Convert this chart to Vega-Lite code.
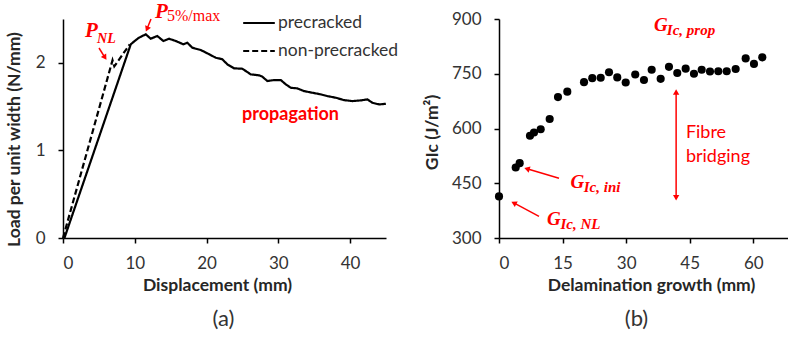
{
  "$schema": "https://vega.github.io/schema/vega-lite/v6.json",
  "padding": {"left": 5, "top": 0, "right": 0, "bottom": 0},
  "bounds": "flush",
  "spacing": 113,
  "resolve": {"scale": {"strokeDash": "independent"}, "legend": {"strokeDash": "independent"}},
  "config": {
    "view": {"stroke": null},
    "font": "Lato",
    "axis": {
      "grid": false,
      "domainColor": "black",
      "domainWidth": 1.5,
      "tickColor": "black",
      "tickWidth": 1.5,
      "tickSize": 5,
      "labelFont": "Lato",
      "labelFontSize": 17,
      "labelColor": "#333333",
      "titleFont": "Lato",
      "titleFontSize": 17.5,
      "titleFontWeight": "bold",
      "titleColor": "#262626"
    }
  },
  "datasets": {
    "loadCurves": [
      {"d": 0.2, "load": 0, "series": "precracked"},
      {"d": 9.44, "load": 2.211, "series": "precracked"},
      {"d": 10.0, "load": 2.25, "series": "precracked"},
      {"d": 10.59, "load": 2.287, "series": "precracked"},
      {"d": 11.53, "load": 2.325, "series": "precracked"},
      {"d": 12.22, "load": 2.275, "series": "precracked"},
      {"d": 13.14, "load": 2.306, "series": "precracked"},
      {"d": 13.98, "load": 2.249, "series": "precracked"},
      {"d": 14.77, "load": 2.275, "series": "precracked"},
      {"d": 15.71, "load": 2.249, "series": "precracked"},
      {"d": 16.77, "load": 2.211, "series": "precracked"},
      {"d": 17.32, "load": 2.229, "series": "precracked"},
      {"d": 18.02, "load": 2.172, "series": "precracked"},
      {"d": 19.19, "load": 2.146, "series": "precracked"},
      {"d": 20.11, "load": 2.108, "series": "precracked"},
      {"d": 21.28, "load": 2.058, "series": "precracked"},
      {"d": 22.2, "load": 2.04, "series": "precracked"},
      {"d": 22.9, "load": 1.982, "series": "precracked"},
      {"d": 23.83, "load": 1.937, "series": "precracked"},
      {"d": 24.99, "load": 1.932, "series": "precracked"},
      {"d": 26.16, "load": 1.868, "series": "precracked"},
      {"d": 27.32, "load": 1.857, "series": "precracked"},
      {"d": 27.78, "load": 1.841, "series": "precracked"},
      {"d": 28.47, "load": 1.792, "series": "precracked"},
      {"d": 29.41, "load": 1.803, "series": "precracked"},
      {"d": 30.34, "load": 1.803, "series": "precracked"},
      {"d": 31.04, "load": 1.754, "series": "precracked"},
      {"d": 31.74, "load": 1.715, "series": "precracked"},
      {"d": 32.65, "load": 1.708, "series": "precracked"},
      {"d": 33.59, "load": 1.677, "series": "precracked"},
      {"d": 34.75, "load": 1.658, "series": "precracked"},
      {"d": 35.92, "load": 1.64, "series": "precracked"},
      {"d": 36.84, "load": 1.62, "series": "precracked"},
      {"d": 38.01, "load": 1.601, "series": "precracked"},
      {"d": 39.16, "load": 1.574, "series": "precracked"},
      {"d": 40.32, "load": 1.563, "series": "precracked"},
      {"d": 41.49, "load": 1.571, "series": "precracked"},
      {"d": 42.41, "load": 1.582, "series": "precracked"},
      {"d": 43.11, "load": 1.543, "series": "precracked"},
      {"d": 44.04, "load": 1.525, "series": "precracked"},
      {"d": 44.98, "load": 1.532, "series": "precracked"},
      {"d": 0, "load": 0, "series": "non-precracked"},
      {"d": 6.9, "load": 2.03, "series": "non-precracked"},
      {"d": 7.15, "load": 1.96, "series": "non-precracked"},
      {"d": 9.3, "load": 2.21, "series": "non-precracked"}
    ],
    "glc": [
      {"a": 0, "g": 414},
      {"a": 3.94, "g": 493},
      {"a": 4.88, "g": 505},
      {"a": 7.31, "g": 580},
      {"a": 8.26, "g": 589},
      {"a": 9.84, "g": 598},
      {"a": 11.96, "g": 626},
      {"a": 13.92, "g": 686},
      {"a": 16.12, "g": 701},
      {"a": 20.06, "g": 727},
      {"a": 22.01, "g": 738},
      {"a": 24.0, "g": 739},
      {"a": 25.96, "g": 754},
      {"a": 27.91, "g": 740},
      {"a": 29.9, "g": 726},
      {"a": 32.15, "g": 748},
      {"a": 34.21, "g": 733},
      {"a": 36.03, "g": 761},
      {"a": 38.15, "g": 736},
      {"a": 40.11, "g": 769},
      {"a": 42.07, "g": 752},
      {"a": 44.05, "g": 764},
      {"a": 46.01, "g": 750},
      {"a": 47.83, "g": 761},
      {"a": 49.79, "g": 756},
      {"a": 51.75, "g": 757},
      {"a": 53.73, "g": 757},
      {"a": 55.85, "g": 763},
      {"a": 58.21, "g": 792},
      {"a": 60.17, "g": 777},
      {"a": 62.13, "g": 795}
    ]
  },
  "hconcat": [
    {
      "width": 323,
      "height": 219,
      "title": {"text": "(a)", "orient": "bottom", "frame": "group", "anchor": "middle", "font": "Lato", "fontSize": 22, "fontWeight": "normal", "color": "#333333", "offset": 15, "dx": -1},
      "encoding": {
        "x": {"field": "d", "type": "quantitative", "scale": {"domain": [0, 45], "nice": false, "zero": false},
              "axis": {"values": [0, 10, 20, 30, 40], "title": "Displacement (mm)", "labelPadding": 12, "titlePadding": 5, "titleX": 154}},
        "y": {"field": "load", "type": "quantitative", "scale": {"domain": [0, 2.5], "nice": false},
              "axis": {"values": [0, 1, 2], "title": "Load per unit width (N/mm)", "labelPadding": 13, "titlePadding": 12, "titleY": 120}}
      },
      "layer": [
        {
          "data": {"name": "loadCurves"},
          "mark": {"type": "line", "strokeWidth": 2.2, "color": "black", "clip": false},
          "encoding": {
            "strokeDash": {"field": "series", "type": "nominal",
                           "scale": {"domain": ["precracked", "non-precracked"], "range": [[1, 0], [6, 3]]},
                           "legend": {"title": null, "orient": "none", "legendX": 179, "legendY": -13, "padding": 0,
                                      "symbolType": "stroke", "symbolStrokeWidth": 2.2, "symbolSize": 1000, "symbolStrokeColor": "black",
                                      "labelFont": "Lato", "labelFontSize": 17.5, "labelColor": "#333333", "labelOffset": 2, "rowPadding": 2}}
          }
        },
        {
          "data": {"values": [{"d": 3.07, "load": 2.295, "t": "P"}, {"d": 12.82, "load": 2.512, "t": "P"}]},
          "mark": {"type": "text", "font": "Liberation Serif", "fontStyle": "italic", "fontWeight": "bold", "fontSize": 21, "color": "red", "align": "left", "baseline": "alphabetic"},
          "encoding": {"text": {"field": "t"}}
        },
        {
          "data": {"values": [{"d": 4.74, "load": 2.226, "t": "NL"}]},
          "mark": {"type": "text", "font": "Liberation Serif", "fontStyle": "italic", "fontWeight": "bold", "fontSize": 14, "color": "red", "align": "left", "baseline": "alphabetic"},
          "encoding": {"text": {"field": "t"}}
        },
        {
          "data": {"values": [{"d": 14.49, "load": 2.477, "t": "5%/max"}]},
          "mark": {"type": "text", "font": "Liberation Serif", "fontSize": 16, "color": "red", "align": "left", "baseline": "alphabetic"},
          "encoding": {"text": {"field": "t"}}
        },
        {
          "data": {"values": [{"d": 31.7, "load": 1.403, "t": "propagation"}]},
          "mark": {"type": "text", "font": "Lato", "fontWeight": "bold", "fontSize": 18, "color": "red", "align": "center", "baseline": "middle"},
          "encoding": {"text": {"field": "t"}}
        },
        {
          "data": {"values": [{"d": 5.02, "load": 2.169, "d2": 5.85, "load2": 2.06}, {"d": 12.26, "load": 2.5, "d2": 11.7, "load2": 2.385}]},
          "mark": {"type": "rule", "color": "red", "strokeWidth": 1.5, "clip": false},
          "encoding": {"x2": {"field": "d2"}, "y2": {"field": "load2"}}
        },
        {
          "data": {"values": [{"d": 5.85, "load": 2.06}]},
          "mark": {"type": "point", "shape": "triangle-up", "filled": true, "color": "red", "size": 40, "angle": 147, "opacity": 1},
          "encoding": {}
        },
        {
          "data": {"values": [{"d": 11.7, "load": 2.385}]},
          "mark": {"type": "point", "shape": "triangle-up", "filled": true, "color": "red", "size": 40, "angle": 203, "opacity": 1},
          "encoding": {}
        }
      ]
    },
    {
      "width": 289,
      "height": 219,
      "title": {"text": "(b)", "orient": "bottom", "frame": "group", "anchor": "middle", "font": "Lato", "fontSize": 22, "fontWeight": "normal", "color": "#333333", "offset": 15, "dx": -7},
      "encoding": {
        "x": {"field": "a", "type": "quantitative", "scale": {"domain": [0, 68.2], "nice": false, "zero": false},
              "axis": {"values": [0, 15, 30, 45, 60], "title": "Delamination growth (mm)", "labelPadding": 12, "titlePadding": 5, "titleX": 152}},
        "y": {"field": "g", "type": "quantitative", "scale": {"domain": [300, 900], "nice": false, "zero": false},
              "axis": {"values": [300, 450, 600, 750, 900], "title": "GIc (J/m²)", "labelPadding": 13, "titlePadding": 10, "titleY": 113}}
      },
      "layer": [
        {
          "data": {"name": "glc"},
          "mark": {"type": "circle", "size": 66, "color": "black", "opacity": 1, "clip": false}
        },
        {
          "data": {"values": [{"a": 36.6, "g": 867, "t": "G"}, {"a": 16.9, "g": 437.6, "t": "G"}, {"a": 11.33, "g": 336.4, "t": "G"}]},
          "mark": {"type": "text", "font": "Liberation Serif", "fontStyle": "italic", "fontWeight": "bold", "fontSize": 19, "color": "red", "align": "left", "baseline": "alphabetic"},
          "encoding": {"text": {"field": "t"}}
        },
        {
          "data": {"values": [{"a": 39.6, "g": 856, "t": "Ic, prop"}, {"a": 20.0, "g": 426.7, "t": "Ic, ini"}, {"a": 14.5, "g": 325.4, "t": "Ic, NL"}]},
          "mark": {"type": "text", "font": "Liberation Serif", "fontStyle": "italic", "fontWeight": "bold", "fontSize": 15, "color": "red", "align": "left", "baseline": "alphabetic"},
          "encoding": {"text": {"field": "t"}}
        },
        {
          "data": {"values": [{"a": 44.1, "g": 589, "t": "Fibre"}, {"a": 44.1, "g": 523, "t": "bridging"}]},
          "mark": {"type": "text", "font": "Lato", "fontSize": 18, "color": "red", "align": "left", "baseline": "middle"},
          "encoding": {"text": {"field": "t"}}
        },
        {
          "data": {"values": [
            {"a": 41.8, "g": 702, "a2": 41.8, "g2": 408},
            {"a": 14.16, "g": 463.6, "a2": 6.6, "g2": 489.5},
            {"a": 9.44, "g": 359.1, "a2": 3.5, "g2": 396}
          ]},
          "mark": {"type": "rule", "color": "red", "strokeWidth": 1.5, "clip": false},
          "encoding": {"x2": {"field": "a2"}, "y2": {"field": "g2"}}
        },
        {
          "data": {"values": [{"a": 41.8, "g": 700}]},
          "mark": {"type": "point", "shape": "triangle-up", "filled": true, "color": "red", "size": 40, "angle": 0, "opacity": 1},
          "encoding": {}
        },
        {
          "data": {"values": [{"a": 41.8, "g": 410}]},
          "mark": {"type": "point", "shape": "triangle-up", "filled": true, "color": "red", "size": 40, "angle": 180, "opacity": 1},
          "encoding": {}
        },
        {
          "data": {"values": [{"a": 6.6, "g": 489.5}]},
          "mark": {"type": "point", "shape": "triangle-up", "filled": true, "color": "red", "size": 40, "angle": 287, "opacity": 1},
          "encoding": {}
        },
        {
          "data": {"values": [{"a": 3.5, "g": 396}]},
          "mark": {"type": "point", "shape": "triangle-up", "filled": true, "color": "red", "size": 40, "angle": 298, "opacity": 1},
          "encoding": {}
        }
      ]
    }
  ]
}
